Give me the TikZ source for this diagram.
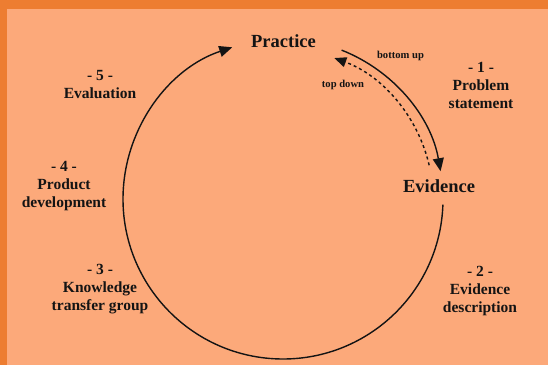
\documentclass[tikz,border=0pt]{standalone}
\usepackage{fontspec}
\setmainfont{Liberation Serif}
\usetikzlibrary{arrows.meta}
\definecolor{frameorange}{HTML}{ED7D31}
\definecolor{peach}{RGB}{252,169,122}
\definecolor{ink}{HTML}{141414}
\begin{document}
\begin{tikzpicture}[x=1pt,y=1pt,
  bigword/.style={font=\fontsize{18.5}{21}\selectfont\bfseries, text=ink, inner sep=0pt, anchor=base},
  smallword/.style={font=\fontsize{10.6}{12}\selectfont\bfseries, text=ink, inner sep=0pt, anchor=base},
  stagelabel/.style={font=\fontsize{15.5}{18}\selectfont\bfseries, text=ink, inner sep=0pt, anchor=north, align=center},
  cycleline/.style={draw=ink, line width=1.4pt},
  tipstyle/.style={-{Triangle[length=13pt,width=11pt]}}
]
\useasboundingbox (0,0) rectangle (548,365);
\fill[frameorange] (0,0) rectangle (548,365);
\fill[peach] (7,0) rectangle (548,356);

% main words
\node[bigword] (practice) at (283.5,317) {Practice};
\node[bigword] (evidence) at (439,173) {Evidence};
\node[smallword] (bottomup) at (400.5,306) {bottom up};
\node[smallword] (topdown) at (343,278) {top down};

% stage labels
\node[stagelabel] (s1) at (481,302.5) {- 1 -\\Problem\\statement};
\node[stagelabel] (s2) at (480,98.5) {- 2 -\\Evidence\\description};
\node[stagelabel] (s3) at (100,100.5) {- 3 -\\Knowledge\\transfer group};
\node[stagelabel] (s4) at (64,203.5) {- 4 -\\Product\\development};
\node[stagelabel] (s5) at (100,294.5) {- 5 -\\Evaluation};

% circle geometry
\coordinate (ctr) at (283,166);
\path (ctr) ++(-2:160) coordinate (mainstart);
\path (ctr) ++(68.5:160) coordinate (bustart);
\path (ctr) ++(13:150) coordinate (tdstart);

% main cycle: evidence -> around -> practice
\draw[cycleline, tipstyle] (mainstart) arc[start angle=-2, end angle=-251.5, radius=160];
% bottom up: practice -> evidence
\draw[cycleline, -{Triangle[length=13pt,width=11pt]}] (bustart) arc[start angle=68.5, end angle=10, radius=160];
% top down: evidence -> practice (dashed)
\draw[cycleline, dash pattern=on 3pt off 3pt, -{Triangle[length=12pt,width=10pt]}] (tdstart) arc[start angle=13, end angle=70, radius=150];
\end{tikzpicture}
\end{document}
